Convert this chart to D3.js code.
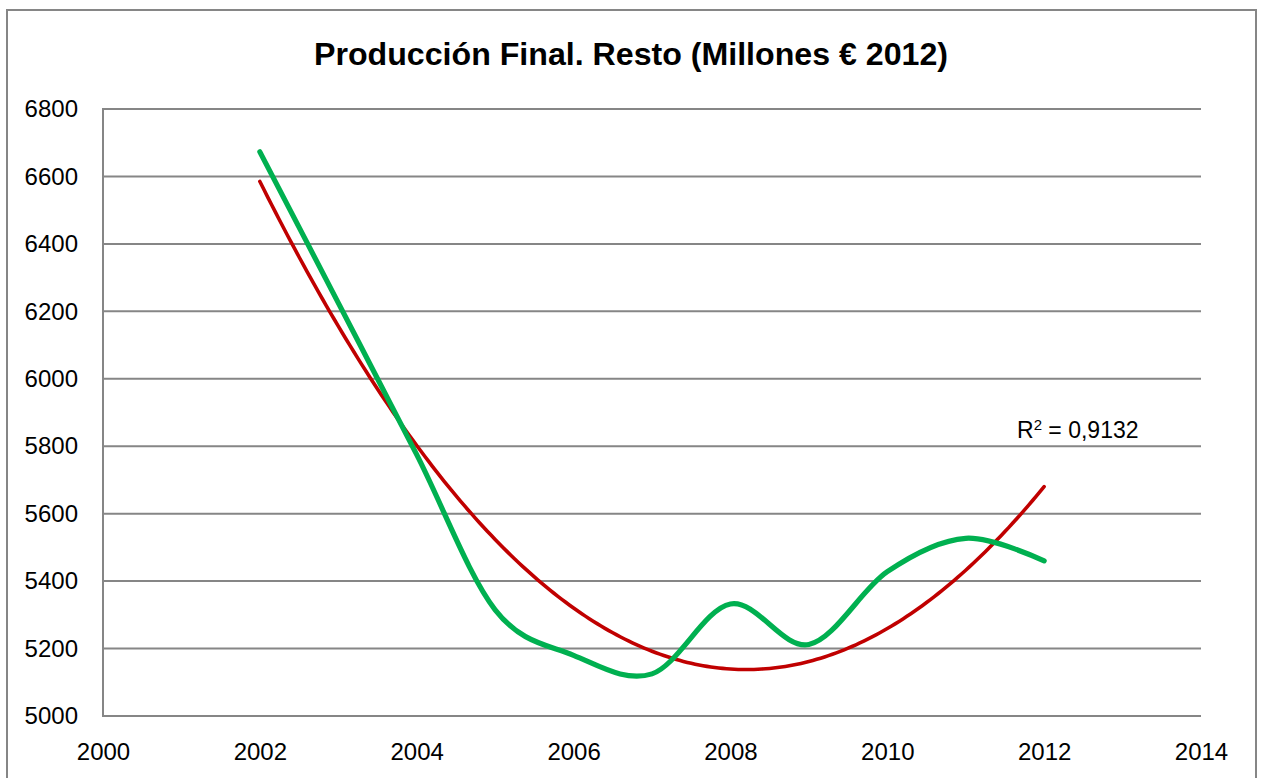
<!DOCTYPE html>
<html>
<head>
<meta charset="utf-8">
<script src="https://cdn.jsdelivr.net/npm/d3@7"></script>
<style>
  html, body { margin: 0; padding: 0; background: #ffffff; }
  svg { display: block; }
</style>
</head>
<body>
<svg id="chart" width="1264" height="778"></svg>
<script>
// ---- data ----
const years = [2002, 2003, 2004, 2005, 2006, 2007, 2008, 2009, 2010, 2011, 2012];
const produccion = [6673, 6225, 5775, 5315, 5180, 5125, 5332, 5212, 5428, 5527, 5460];
const xTicks = [2000, 2002, 2004, 2006, 2008, 2010, 2012, 2014];
const yTicks = [5000, 5200, 5400, 5600, 5800, 6000, 6200, 6400, 6600, 6800];
const titleText = "Producción Final. Resto (Millones € 2012)";
const r2Value = "0,9132";

// ---- layout ----
const svg = d3.select("#chart");
const W = 1264, H = 778;
const plot = { left: 103, right: 1201, top: 109, bottom: 716 };
const gridColor = "#868686";
const font = "'Liberation Sans', Arial, sans-serif";

const x = d3.scaleLinear().domain([2000, 2014]).range([plot.left, plot.right]);
const y = d3.scaleLinear().domain([5000, 6800]).range([plot.bottom, plot.top]);

svg.append("rect").attr("width", W).attr("height", H).attr("fill", "#fff");

// outer chart border
svg.append("rect")
  .attr("x", 7).attr("y", 10)
  .attr("width", 1249).attr("height", 790)
  .attr("fill", "none").attr("stroke", gridColor).attr("stroke-width", 2);

// title
svg.append("text")
  .attr("x", 631).attr("y", 65)
  .attr("text-anchor", "middle")
  .attr("font-family", font).attr("font-weight", "bold").attr("font-size", 31)
  .attr("textLength", 634).attr("lengthAdjust", "spacingAndGlyphs")
  .attr("fill", "#000")
  .text(titleText);

// gridlines
svg.append("g").selectAll("line").data(yTicks).join("line")
  .attr("x1", plot.left).attr("x2", plot.right)
  .attr("y1", d => y(d)).attr("y2", d => y(d))
  .attr("stroke", gridColor).attr("stroke-width", 2);

// y axis line
svg.append("line")
  .attr("x1", plot.left).attr("x2", plot.left)
  .attr("y1", plot.top - 1).attr("y2", plot.bottom + 1)
  .attr("stroke", gridColor).attr("stroke-width", 2);

// y axis labels
const yAxis = d3.axisLeft(y).tickValues(yTicks).tickSize(0).tickPadding(25).tickFormat(d3.format("d"));
const gy = svg.append("g").attr("transform", `translate(${plot.left},0)`).call(yAxis);
gy.select(".domain").remove();
gy.selectAll("text").attr("font-family", font).attr("font-size", 24).attr("fill", "#000");

// x axis labels
const xAxis = d3.axisBottom(x).tickValues(xTicks).tickSize(0).tickPadding(27).tickFormat(d3.format("d"));
const gx = svg.append("g").attr("transform", `translate(0,${plot.bottom})`).call(xAxis);
gx.select(".domain").remove();
gx.selectAll("text").attr("font-family", font).attr("font-size", 24).attr("fill", "#000");

// polynomial (order 2) trendline by least squares on the data
function polyFit2(xs, ys) {
  const n = xs.length;
  let s = [0, 0, 0, 0, 0], t = [0, 0, 0];
  for (let i = 0; i < n; i++) {
    const u = xs[i] - xs[0];
    for (let k = 0; k < 5; k++) s[k] += Math.pow(u, k);
    for (let k = 0; k < 3; k++) t[k] += Math.pow(u, k) * ys[i];
  }
  const M = [[s[0], s[1], s[2], t[0]], [s[1], s[2], s[3], t[1]], [s[2], s[3], s[4], t[2]]];
  for (let i = 0; i < 3; i++) {
    for (let j = i + 1; j < 3; j++) {
      const f = M[j][i] / M[i][i];
      for (let k = i; k < 4; k++) M[j][k] -= f * M[i][k];
    }
  }
  const c = [0, 0, 0];
  for (let i = 2; i >= 0; i--) {
    let v = M[i][3];
    for (let k = i + 1; k < 3; k++) v -= M[i][k] * c[k];
    c[i] = v / M[i][i];
  }
  return xv => { const u = xv - xs[0]; return c[0] + c[1] * u + c[2] * u * u; };
}
const trend = polyFit2(years, produccion);
const trendPts = d3.range(years[0], years[years.length - 1] + 0.0001, 0.05).map(v => [v, trend(v)]);

// trendline (red)
svg.append("path")
  .datum(trendPts)
  .attr("fill", "none").attr("stroke", "#C00000").attr("stroke-width", 3.6)
  .attr("stroke-linecap", "round")
  .attr("d", d3.line().x(d => x(d[0])).y(d => y(d[1])));

// smoothed data line (green)
svg.append("path")
  .datum(years.map((yr, i) => [yr, produccion[i]]))
  .attr("fill", "none").attr("stroke", "#00B050").attr("stroke-width", 5.2)
  .attr("stroke-linecap", "round").attr("stroke-linejoin", "round")
  .attr("d", d3.line().x(d => x(d[0])).y(d => y(d[1])).curve(d3.curveCardinal.tension(0)));

// R² label
const r2 = svg.append("text")
  .attr("x", 1017).attr("y", 438)
  .attr("font-family", font).attr("font-size", 23)
  .attr("fill", "#000");
r2.append("tspan").text("R");
r2.append("tspan").attr("font-size", 15).attr("dy", -8).text("2");
r2.append("tspan").attr("dy", 8).text(" = " + r2Value);
</script>
</body>
</html>
